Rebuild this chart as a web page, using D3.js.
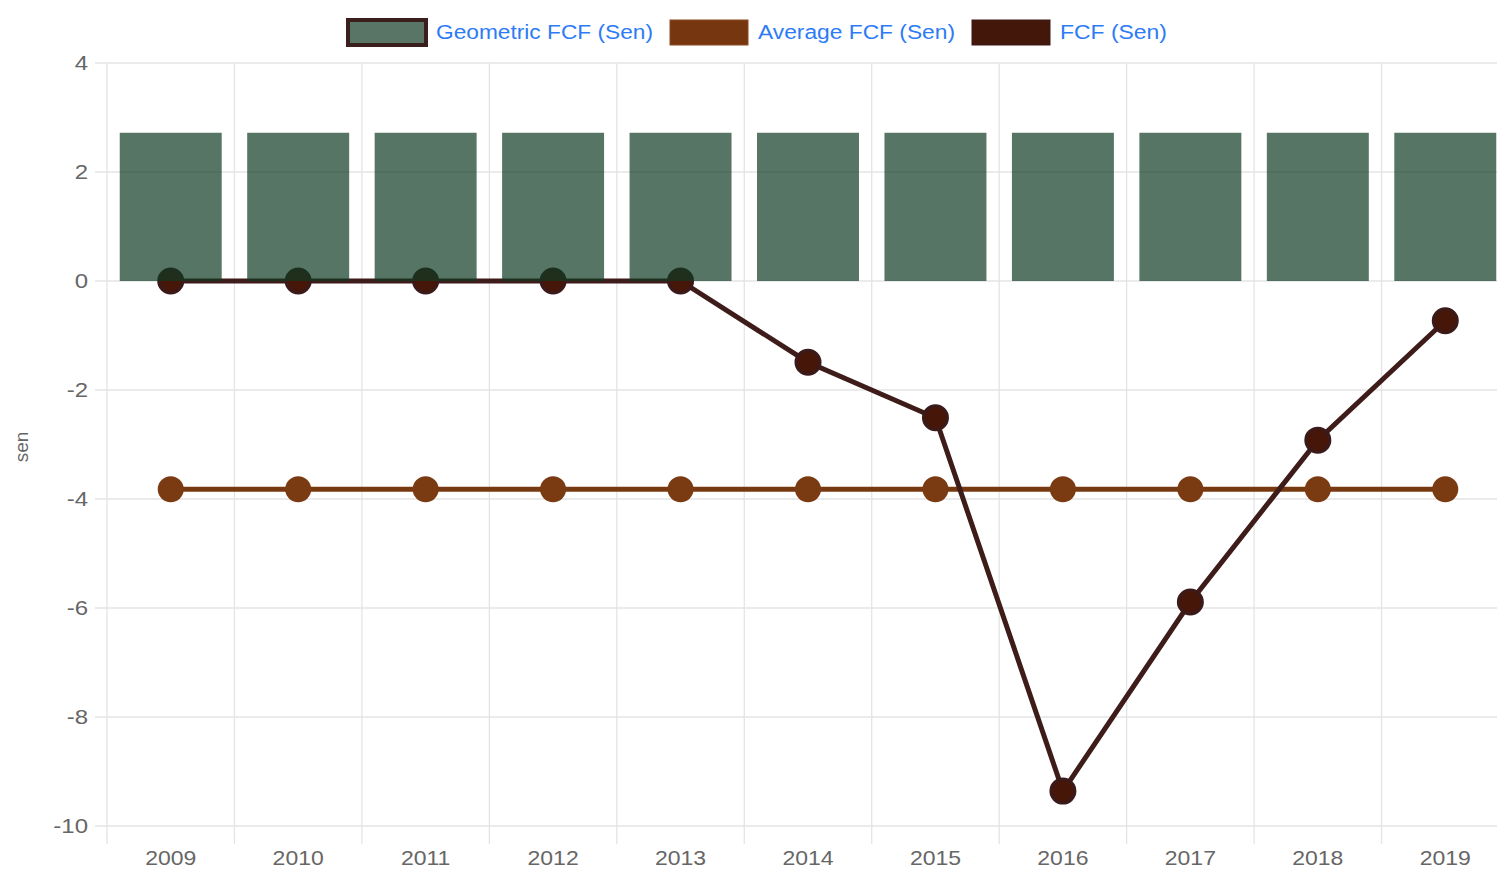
<!DOCTYPE html>
<meta charset="utf-8">
<style>
body { margin: 0; background: #fff; font-family: "Liberation Sans", Arial, sans-serif; overflow: hidden; }
.grid line { stroke: #e4e4e4; stroke-width: 1.3; }
.legend text { fill: #2d7cf6; font-size: 20px; }
</style>
<body>
<script src="https://cdn.jsdelivr.net/npm/d3@7"></script>
<script>

var years = ["2009","2010","2011","2012","2013","2014","2015","2016","2017","2018","2019"];
var geometricFcf = [2.72,2.72,2.72,2.72,2.72,2.72,2.72,2.72,2.72,2.72,2.72];
var averageFcf = [-3.82,-3.82,-3.82,-3.82,-3.82,-3.82,-3.82,-3.82,-3.82,-3.82,-3.82];
var fcf = [0,0,0,0,0,-1.49,-2.51,-9.36,-5.89,-2.92,-0.73];
var yTicks = [4,2,0,-2,-4,-6,-8,-10];
var seriesNames = ["Geometric FCF (Sen)", "Average FCF (Sen)", "FCF (Sen)"];

var W = 1497, H = 870;
var plotLeft = 107, plotRight = 1509, plotTop = 63, plotBottom = 826;

var svg = d3.select("body").append("svg")
  .attr("width", W)
  .attr("height", H);

var x = d3.scaleBand().domain(years).range([plotLeft, plotRight]).paddingInner(0.2).paddingOuter(0.1);
var xc = d3.scaleBand().domain(years).range([plotLeft, plotRight]);
var y = d3.scaleLinear().domain([-10, 4]).range([plotBottom, plotTop]);

// gridlines
var grid = svg.append("g").attr("class", "grid");
grid.selectAll(".h").data(yTicks).enter().append("line")
  .attr("x1", plotLeft - 12).attr("x2", plotRight)
  .attr("y1", function(d) { return y(d); }).attr("y2", function(d) { return y(d); });
var vx = years.map(function(d) { return xc(d); }).concat([plotRight]);
grid.selectAll(".v").data(vx).enter().append("line")
  .attr("x1", function(d) { return d; }).attr("x2", function(d) { return d; })
  .attr("y1", plotTop).attr("y2", plotBottom + 18);

// axis labels (the source font is a bit wider, so stretch horizontally)
svg.append("g").selectAll("text").data(yTicks).enter().append("text")
  .attr("transform", function(d) { return "translate(88," + (y(d) + 7) + ") scale(1.2,1)"; })
  .attr("text-anchor", "end")
  .style("fill", "#666").style("font-size", "20px")
  .text(function(d) { return d; });

svg.append("g").selectAll("text").data(years).enter().append("text")
  .attr("transform", function(d) { return "translate(" + (xc(d) + xc.bandwidth() / 2) + ",865) scale(1.15,1)"; })
  .attr("text-anchor", "middle")
  .style("fill", "#666").style("font-size", "20px")
  .text(function(d) { return d; });

svg.append("text")
  .attr("transform", "translate(28,447) rotate(-90)")
  .attr("text-anchor", "middle")
  .style("fill", "#666").style("font-size", "19px")
  .text("sen");

var cx = function(d, i) { return xc(years[i]) + xc.bandwidth() / 2; };
var line = d3.line().x(function(d, i) { return cx(d, i); }).y(function(d) { return y(d); });

// average line
svg.append("path").datum(averageFcf)
  .attr("d", line).attr("fill", "none")
  .attr("stroke", "#773910").attr("stroke-width", 5);
svg.append("g").selectAll("circle").data(averageFcf).enter().append("circle")
  .attr("cx", cx).attr("cy", function(d) { return y(d); })
  .attr("r", 13).attr("fill", "#7a3a12");

// fcf line
svg.append("path").datum(fcf)
  .attr("d", line).attr("fill", "none")
  .attr("stroke", "#3e1c1a").attr("stroke-width", 5);
svg.append("g").selectAll("circle").data(fcf).enter().append("circle")
  .attr("cx", cx).attr("cy", function(d) { return y(d); })
  .attr("r", 12).attr("fill", "#461608")
  .attr("stroke", "#3a1a1a").attr("stroke-width", 3);

// bars drawn on top, translucent
svg.append("g").selectAll("rect").data(geometricFcf).enter().append("rect")
  .attr("x", function(d, i) { return x(years[i]); })
  .attr("width", x.bandwidth())
  .attr("y", function(d) { return y(d); })
  .attr("height", function(d) { return y(0) - y(d); })
  .attr("fill", "rgba(16,58,35,0.7)");

// legend
var legendColors = [
  {fill: "#587565", stroke: "#3a1f1c"},
  {fill: "#763610", stroke: "#8a4a20"},
  {fill: "#431709", stroke: "#3a1a18"}
];
var legX = [346, 668, 970];
var legend = svg.append("g").attr("class", "legend");
seriesNames.forEach(function(name, i) {
  legend.append("rect")
    .attr("x", legX[i] + 2).attr("y", 20)
    .attr("width", 78).attr("height", 25)
    .attr("fill", legendColors[i].fill)
    .attr("stroke", legendColors[i].stroke)
    .attr("stroke-width", i === 0 ? 4 : 1);
  legend.append("text")
    .attr("x", legX[i] + 90).attr("y", 39)
    .style("font-size", "20px")
    .attr("textLength", [217, 197, 107][i])
    .attr("lengthAdjust", "spacingAndGlyphs")
    .text(name);
});

</script>
</body>
